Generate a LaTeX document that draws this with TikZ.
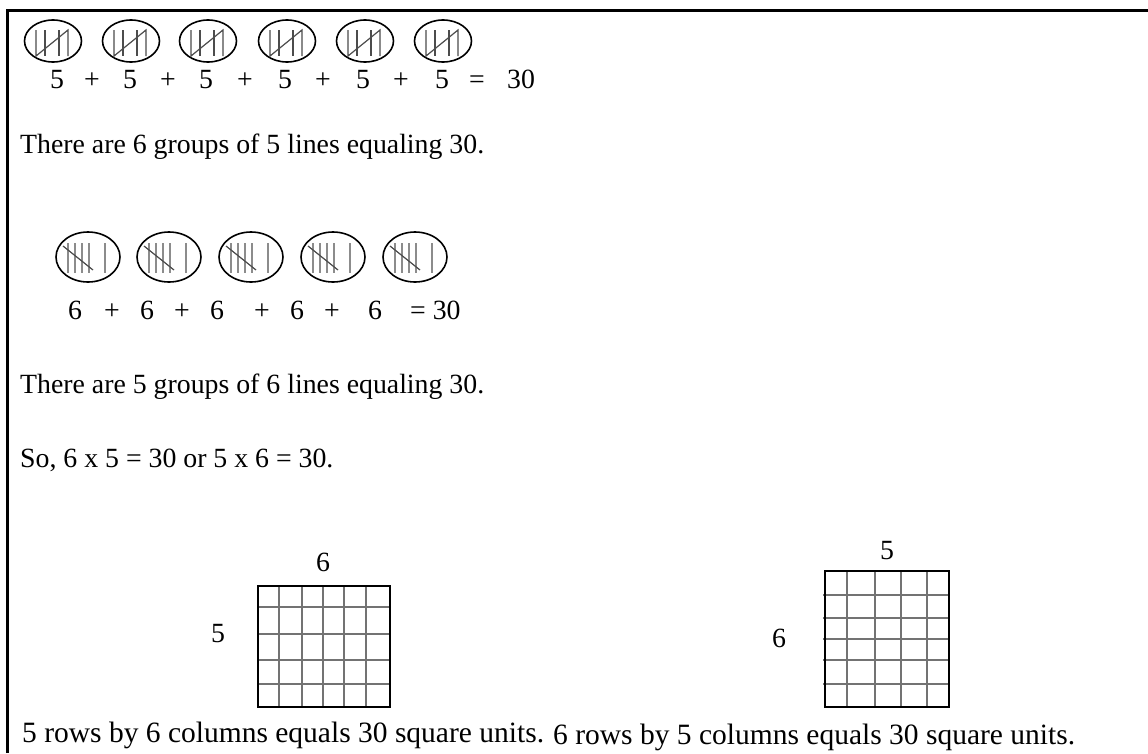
\documentclass[tikz,border=0pt]{standalone}
\usepackage{fontspec}
\setmainfont{Liberation Serif}
\begin{document}
\begin{tikzpicture}[x=1pt,y=-1pt,
  txt/.style={inner sep=0pt,anchor=base west,font=\fontsize{27.8}{30}\selectfont},
  eq/.style={inner sep=0pt,anchor=base,font=\fontsize{27.8}{30}\selectfont},
  captxt/.style={inner sep=0pt,anchor=base west,font=\fontsize{29.5}{32}\selectfont},
  tally/.style={draw=black!70,line width=1.2pt},
  tallyb/.style={draw=black!45,line width=1.6pt},
  gridline/.style={draw=black!55,line width=1.5pt},
  gridbox/.style={draw=black,line width=2pt}]
\useasboundingbox (0,0) rectangle (1148,753);
\fill[white] (0,0) rectangle (1148,753);
% frame
\draw[line width=2.2pt] (7.5,753) -- (7.5,10.5) -- (1148,10.5);
% first row of tally groups
\foreach \c [count=\i] in {53,131,208,287,365,443}{
  \draw[line width=1.6pt] (\c,41) ellipse (28.5 and 21);
  \draw[tally] (\c-17,30) -- (\c-17,56) -- (\c+15,30) -- (\c+15,56);
  \draw[tally] (\c-8,30) -- (\c-8,56);
  \draw[tally] (\c+6,30) -- (\c+6,56);
}
\foreach \x/\t [count=\i] in {57/5,92/+,130/5,168/+,206/5,245/+,285/5,323/+,363/5,401/+,442/5,477/=,521/30}{
  \node[eq] (e1\i) at (\x,88) {\t};
}
\node[txt] (t1) at (20,153) {There are 6 groups of 5 lines equaling 30.};
% second row of tally groups
\foreach \c [count=\i] in {88,169,251,333,415}{
  \draw[line width=1.6pt] (\c,257) ellipse (32 and 25);
  \foreach \d in {-20,-13,-6,1}{\draw[tallyb] (\c+\d,243) -- (\c+\d,273);}
  \draw[tallyb] (\c+17,243) -- (\c+17,273);
  \draw[tally] (\c-25,246) -- (\c+5,270);
}
\foreach \x/\t [count=\i] in {75/6,112/+,147/6,182/+,217/6,262/+,297/6,332/+,375/6}{
  \node[eq] (e2\i) at (\x,319) {\t};
}
\node[txt] (e2eq) at (410,319) {= 30};
\node[txt] (t2) at (20,393) {There are 5 groups of 6 lines equaling 30.};
\node[txt] (t3) at (20,467) {So, 6 x 5 = 30 or 5 x 6 = 30.};
% left grid
\foreach \x in {279,302,323,344,366}{\draw[gridline] (\x,586) -- (\x,707);}
\foreach \y in {607,634,660,684}{\draw[gridline] (258,\y) -- (390,\y);}
\draw[gridbox] (258,586) rectangle (390,707);
\node[eq] (g1top) at (323,571) {6};
\node[eq] (g1left) at (218,642) {5};
\node[captxt] (c1) at (22,742) {5 rows by 6 columns equals 30 square units.};
% right grid
\foreach \x in {847,875,901,927}{\draw[gridline] (\x,571) -- (\x,707);}
\foreach \y in {595,618,639,660,684}{\draw[gridline] (823,\y) -- (949,\y);}
\draw[gridbox] (825,571) rectangle (949,707);
\node[eq] (g2top) at (887,559) {5};
\node[eq] (g2left) at (779,647) {6};
\node[captxt] (c2) at (553,744) {6 rows by 5 columns equals 30 square units.};
\end{tikzpicture}
\end{document}
